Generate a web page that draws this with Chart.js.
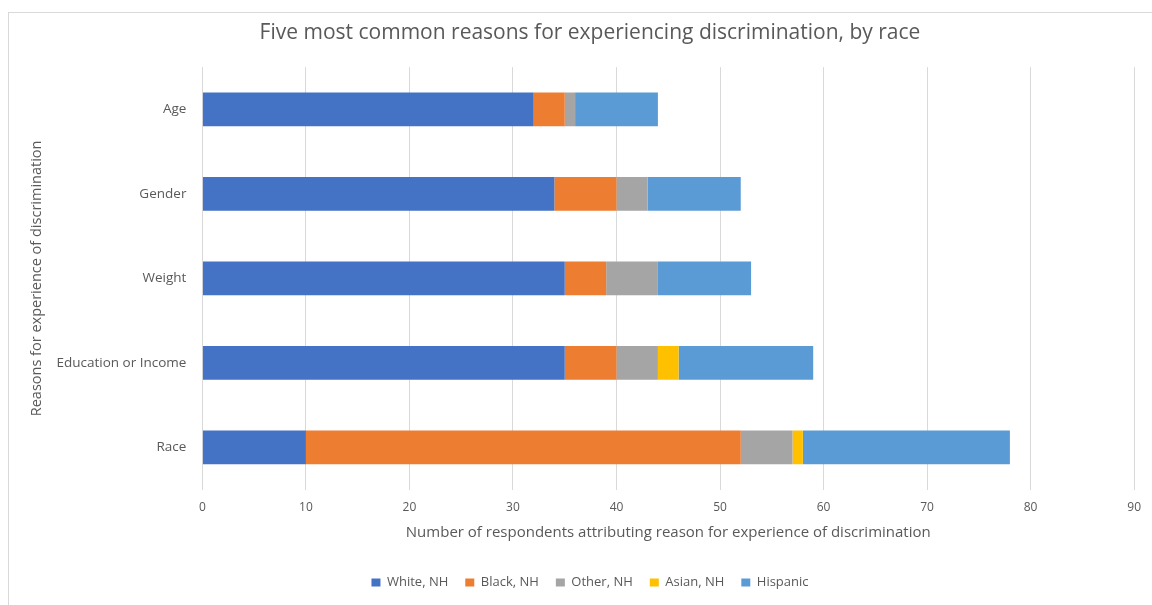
<!DOCTYPE html>
<html>
<head>
<meta charset="utf-8">
<script src="https://cdn.jsdelivr.net/npm/chart.js@4"></script>
<style>
  html, body { margin: 0; padding: 0; background: #fff; }
  #frame { position: absolute; left: 8px; top: 12px; width: 1160px; height: 620px; border: 1px solid #d9d9d9; }
  #wrap { position: absolute; left: 0; top: 0; width: 1152px; height: 605px; }
</style>
</head>
<body>
<div id="frame"></div>
<div id="wrap"><canvas id="chart"></canvas></div>
<script>
const reasons = ['Age', 'Gender', 'Weight', 'Education or Income', 'Race'];
const whiteNH = [32, 34, 35, 35, 10];
const blackNH = [3, 6, 4, 5, 42];
const otherNH = [1, 3, 5, 4, 5];
const asianNH = [0, 0, 0, 2, 1];
const hispanic = [8, 9, 9, 13, 20];
const xTicks = [0, 10, 20, 30, 40, 50, 60, 70, 80, 90];

const fontFamily = '"Open Sans", Lato, sans-serif';
const textColor = '#595959';

const makeSet = (label, data, color) => ({
    label: label,
    data: data,
    backgroundColor: color,
    borderWidth: 0,
    barPercentage: 0.4,
    categoryPercentage: 1.0
});

new Chart(document.getElementById('chart'), {
    type: 'bar',
    data: {
        labels: reasons,
        datasets: [
            makeSet('White, NH', whiteNH, '#4472C4'),
            makeSet('Black, NH', blackNH, '#ED7D31'),
            makeSet('Other, NH', otherNH, '#A5A5A5'),
            makeSet('Asian, NH', asianNH, '#FFC000'),
            makeSet('Hispanic', hispanic, '#5B9BD5')
        ]
    },
    options: {
        indexAxis: 'y',
        responsive: true,
        maintainAspectRatio: false,
        animation: false,
        layout: { padding: { left: 28, right: 0, top: 14, bottom: 6 } },
        plugins: {
            title: {
                display: true,
                text: 'Five most common reasons for experiencing discrimination, by race',
                color: textColor,
                font: { family: fontFamily, size: 21, weight: 'normal' },
                padding: { top: 6, bottom: 22 }
            },
            legend: {
                position: 'bottom',
                labels: {
                    color: textColor,
                    font: { family: fontFamily, size: 13 },
                    boxWidth: 9,
                    boxHeight: 8,
                    padding: 17
                }
            },
            tooltip: { enabled: false }
        },
        scales: {
            x: {
                stacked: true,
                min: 0,
                max: 90,
                afterBuildTicks: axis => { axis.ticks = xTicks.map(v => ({ value: v })); },
                grid: { color: '#d9d9d9', drawTicks: false },
                border: { display: false },
                ticks: { color: textColor, font: { family: fontFamily, size: 12 }, padding: 11 },
                title: {
                    display: true,
                    text: 'Number of respondents attributing reason for experience of discrimination',
                    color: textColor,
                    font: { family: fontFamily, size: 15 },
                    padding: { top: -2, bottom: 17 }
                }
            },
            y: {
                stacked: true,
                grid: { display: false, drawTicks: false },
                border: { display: true, color: '#d9d9d9' },
                ticks: { color: textColor, font: { family: fontFamily, size: 13.5 }, padding: 16 },
                title: {
                    display: true,
                    text: 'Reasons for experience of discrimination',
                    color: textColor,
                    font: { family: fontFamily, size: 14.5 },
                    padding: { top: 0, bottom: -5 }
                }
            }
        }
    }
});
</script>
</body>
</html>
